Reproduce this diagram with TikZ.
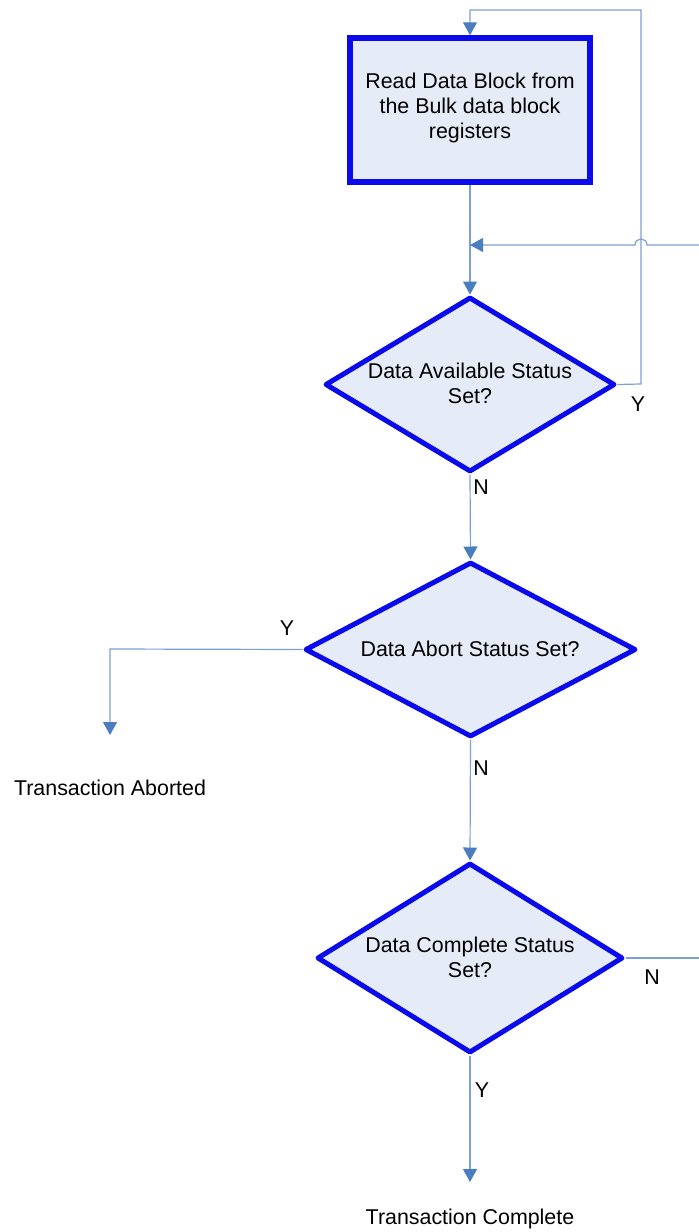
\documentclass[tikz,border=0pt]{standalone}
\usepackage{fontspec}
\setmainfont{Liberation Sans}
\usetikzlibrary{shapes.geometric,arrows.meta}
\definecolor{bordblue}{RGB}{10,10,235}
\definecolor{fillblue}{RGB}{230,236,247}
\definecolor{linecol}{RGB}{125,160,212}
\definecolor{tipcol}{RGB}{74,126,192}
\tikzset{
  procbox/.style={draw=bordblue, fill=fillblue, line width=5.5pt, rectangle, minimum width=240pt, minimum height=144pt, inner sep=0pt},
  dia/.style={draw=bordblue, fill=fillblue, line width=5pt, diamond, line join=round, inner sep=0pt},
  txt/.style={align=center, font=\fontsize{21.4}{25}\selectfont, inner sep=0pt},
  lbl/.style={font=\fontsize{21.4}{25}\selectfont, inner sep=0pt},
  conn/.style={draw=linecol, line width=1.2pt},
  arr/.style={conn, -{Triangle[length=13pt,width=14pt,color=tipcol]}}
}
\begin{document}
\begin{tikzpicture}[x=1pt,y=-1pt]
\useasboundingbox (0,0) rectangle (699,1232);
% shapes
\node[procbox] (box) at (470,110) {};
\node[txt] (boxt) at (470,108) {Read Data Block from\\the Bulk data block\\registers};
\node[dia, minimum width=290pt, minimum height=175pt] (d1) at (470,384.5) {};
\node[txt] (d1t) at (470,383) {Data Available Status\\Set?};
\node[dia, minimum width=331pt, minimum height=175pt] (d2) at (470.5,649.5) {};
\node[txt] (d2t) at (470,649) {Data Abort Status Set?};
\node[dia, minimum width=306pt, minimum height=190pt] (d3) at (470,958) {};
\node[txt] (d3t) at (470,957) {Data Complete Status\\Set?};
% end labels
\node[lbl] (abort) at (110,788) {Transaction Aborted};
\node[lbl] (done) at (470,1219) {Transaction Complete};
% coordinates
\coordinate (j1) at (470,245);
\coordinate (r1) at (641,384);
\coordinate (r2) at (641,10);
\coordinate (r3) at (470,10);
\coordinate (fbin) at (699,245);
\coordinate (hopR) at (647,245);
\coordinate (hopL) at (635,245);
\coordinate (l1) at (110,649);
\coordinate (abtip) at (110,735);
\coordinate (cptip) at (470,1182);
\coordinate (nout) at (699,958);
% connectors
\draw[arr] (box.south) -- (d1.north);
\draw[arr] (fbin) -- (hopR) .. controls (647,237) and (635,237) .. (hopL) -- (j1);
\draw[arr] (d1.east) -- (r1) -- (r2) -- (r3) -- (box.north);
\draw[arr] (d1.south) -- (d2.north);
\draw[arr] (d2.south) -- (d3.north);
\draw[arr] (d2.west) -- (l1) -- (abtip);
\draw[arr] (d3.south) -- (cptip);
\draw[conn] (d3.east) -- (nout);
% branch labels
\node[lbl] (y1) at (638,404) {Y};
\node[lbl] (n1) at (481,487) {N};
\node[lbl] (y2) at (287,628) {Y};
\node[lbl] (n2) at (481,768) {N};
\node[lbl] (n3) at (652,977) {N};
\node[lbl] (y3) at (482,1090) {Y};
\end{tikzpicture}
\end{document}
